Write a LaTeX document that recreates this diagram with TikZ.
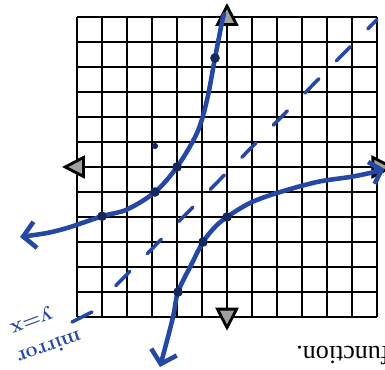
\documentclass[tikz,border=0pt]{standalone}
\usepackage{fontspec}
\newfontfamily\printfont{Liberation Serif}
\usetikzlibrary{arrows.meta}
\definecolor{inkblue}{RGB}{38,72,165}
\definecolor{tipgray}{RGB}{160,160,160}

\begin{document}
\begin{tikzpicture}[x=0.5cm, y=0.5cm,
  gridline/.style={line width=1.1pt},
  axisline/.style={line width=1.6pt,
    {Triangle[length=0.46cm,width=0.46cm,fill=tipgray]}-{Triangle[length=0.46cm,width=0.46cm,fill=tipgray]}},
  branch/.style={draw=inkblue, line width=2.6pt, line cap=round, line join=round},
  dot/.style={circle, fill=inkblue!55!black, inner sep=0pt, minimum size=5.5pt},
  mirrorline/.style={draw=inkblue, line width=2pt, line cap=round,
    dash pattern=on 0.4cm off 0.5cm},
  hand/.style={text=inkblue, inner sep=0pt,
    font=\bfseries\fontsize{12}{14}\selectfont}]
  \useasboundingbox (-9.08,-8.12) rectangle (6.32,6.68);
  \draw[gridline, step=0.5cm] (-6,-6) grid (6,6);

  \coordinate (xl) at (-6.6, 0);
  \coordinate (xr) at ( 6.7, 0);
  \coordinate (yb) at (0, -6.55);
  \coordinate (yt) at (0,  6.56);
  \draw[axisline] (xl) -- (xr);
  \draw[axisline] (yb) -- (yt);

  \coordinate (m1) at (-4.45, -4.75);
  \coordinate (m2) at ( 6.0,  5.9);
  \draw[mirrorline] (m1) -- (m2);

  \draw[branch, {Straight Barb[length=7pt,width=15pt]}-]
    plot[smooth, tension=0.55] coordinates {(-8.28,-2.8) (-6.68,-2.52) (-5,-1.97)
      (-4,-1.7) (-2.88,-1) (-2,0) (-1.2,1.36) (-0.8,2.68) (-0.48,4.36)
      (-0.2,5.8) (-0.12,6.1)};
  \draw[branch, {Straight Barb[length=7pt,width=15pt]}-{Straight Barb[length=6pt,width=13pt]}]
    plot[smooth, tension=0.55] coordinates {(-2.68,-8) (-2.16,-6) (-1.96,-5)
      (-1.4,-3.85) (-0.96,-3) (-0.48,-2.4) (0,-2) (0.92,-1.44) (2,-1.04)
      (3.6,-0.6) (4.92,-0.4) (5.72,-0.24) (6.3,-0.08)};

  \node[dot] (d1) at (-5, -1.97) {};
  \node[dot] (d2) at (-2.88, -1) {};
  \node[dot] (d3) at (-2, 0) {};
  \node[dot] (d4) at (-0.48, 4.36) {};
  \node[dot, minimum size=3.5pt] (d5) at (-2.88, 0.84) {};
  \node[dot] (e1) at (-1.96, -5) {};
  \node[dot] (e2) at (-0.96, -3) {};
  \node[dot] (e3) at (0, -2) {};

  \node[hand, rotate=200] (yx) at (-7.85, -6.1) {y=x};
  \node[hand, rotate=200] (mirr) at (-7.1, -7.25) {mirror};
  \coordinate (p1) at (-6.2, -6.2);
  \coordinate (p2) at (-5.4, -5.8);
  \draw[branch, line width=2pt] (p1) -- (p2);

  \node[rotate=180, anchor=base east, inner sep=0pt,
    font=\printfont\fontsize{14.8}{17}\selectfont] (fn) at (2.76, -7.2) {function.};
\end{tikzpicture}
\end{document}
